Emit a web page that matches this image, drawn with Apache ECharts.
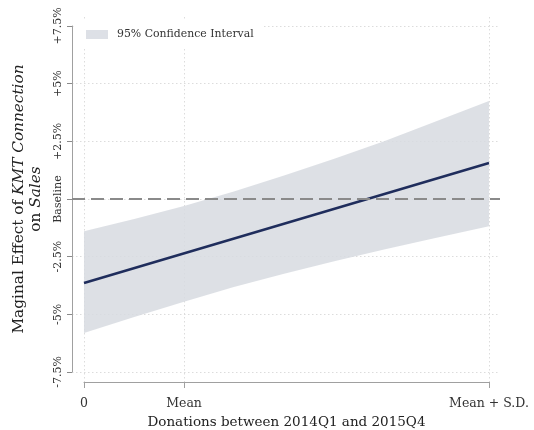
<!DOCTYPE html>
<html>
<head>
<meta charset="utf-8">
<script src="https://cdn.jsdelivr.net/npm/echarts@6/dist/echarts.min.js"></script>
<style>
html,body{margin:0;padding:0;background:#fff;}
#chart{width:534px;height:430px;}
</style>
</head>
<body>
<div id="chart"></div>
<script>
// ---- data (x in units where Mean + S.D. = 1) ----
const xTickValues = [0, 0.247, 1];
const xTickLabels = ['0', 'Mean', 'Mean + S.D.'];
const yTickValues = [-7.5, -5, -2.5, 0, 2.5, 5, 7.5];
const yTickLabels = ['-7.5%', '-5%', '-2.5%', 'Baseline', '+2.5%', '+5%', '+7.5%'];
const lineX = [0, 1];
const lineY = [-3.64, 1.56];
const bandX = [0, 0.124, 0.247, 0.37, 0.494, 0.618, 0.741, 0.865, 1];
const upperY = [-1.40, -0.87, -0.30, 0.32, 1.02, 1.74, 2.50, 3.34, 4.25];
const lowerY = [-5.81, -5.12, -4.45, -3.82, -3.24, -2.70, -2.19, -1.70, -1.18];
const bandName = '95% Confidence Interval';

const FONT = 'DejaVu Serif';
const bandColor = '#d7dae1';
const legendBandColor = '#dde0e6';
const lineColor = '#1f2d5c';

const chart = echarts.init(document.getElementById('chart'), null, {renderer: 'canvas'});

const findLabel = (vals, labels) => v => {
  const i = vals.findIndex(t => Math.abs(t - v) < 1e-6);
  return i >= 0 ? labels[i] : '';
};

const option = {
  backgroundColor: '#fff',
  animation: false,
  textStyle: {fontFamily: FONT},
  legend: {
    left: 76, top: 21,
    padding: [8, 10, 8, 10],
    backgroundColor: '#fff',
    itemWidth: 22, itemHeight: 9,
    textStyle: {fontFamily: FONT, fontSize: 10.9, color: '#333', padding: [0, 0, 0, 4]},
    data: [{name: bandName, icon: 'rect', itemStyle: {color: legendBandColor}}]
  },
  grid: [
    {left: 72, right: 34, top: 26, bottom: 58, outerBoundsMode: 'none', containLabel: false},
    {left: 84, right: 45, top: 17, bottom: 48, outerBoundsMode: 'none', containLabel: false}
  ],
  xAxis: [
    {gridIndex: 0, type: 'value', min: -0.0296, max: 1.0272, show: false},
    {
      gridIndex: 1, type: 'value', min: 0, max: 1, position: 'bottom',
      axisLine: {show: true, onZero: false, lineStyle: {color: '#a0a0a0', width: 1}},
      axisTick: {show: true, inside: false, length: 6, lineStyle: {color: '#a0a0a0'}, customValues: xTickValues},
      axisLabel: {
        show: true, margin: 15, color: '#333', fontFamily: FONT, fontSize: 12.5,
        customValues: xTickValues,
        formatter: findLabel(xTickValues, xTickLabels)
      },
      splitLine: {show: true, lineStyle: {color: '#dcdcdc', type: [1.5, 2.5], width: 1}},
      name: 'Donations between 2014Q1 and 2015Q4',
      nameLocation: 'middle', nameGap: 33,
      nameTextStyle: {fontFamily: FONT, fontSize: 13.5, color: '#222'}
    }
  ],
  yAxis: [
    {
      gridIndex: 0, type: 'value', min: -7.5, max: 7.5, interval: 2.5, position: 'left',
      axisLine: {show: true, onZero: false, lineStyle: {color: '#a0a0a0', width: 1}},
      axisTick: {show: true, inside: false, length: 5, lineStyle: {color: '#8a8a8a', width: 1}},
      axisLabel: {
        rotate: 90, margin: 14, color: '#333', fontFamily: FONT, fontSize: 11,
        align: 'center', verticalAlign: 'middle',
        formatter: findLabel(yTickValues, yTickLabels)
      },
      splitLine: {show: true, lineStyle: {color: '#dcdcdc', type: [1.5, 2.5], width: 1}},
      name: '{n|Maginal Effect of }{i|KMT Connection}\n{n|on }{i|Sales}',
      nameLocation: 'middle', nameRotate: 90, nameGap: 17,
      nameTextStyle: {
        fontFamily: FONT, fontSize: 15.3, color: '#222', lineHeight: 17, align: 'center',
        rich: {
          n: {fontFamily: FONT, fontSize: 15.3, color: '#222', lineHeight: 17},
          i: {fontFamily: FONT, fontSize: 15.3, color: '#222', fontStyle: 'italic', lineHeight: 17}
        }
      }
    },
    {gridIndex: 1, type: 'value', min: 0, max: 1, show: false}
  ],
  series: [
    {
      name: bandName,
      type: 'custom',
      xAxisIndex: 0, yAxisIndex: 0,
      itemStyle: {color: legendBandColor},
      data: [[0, 0]],
      z: 2,
      renderItem: function (params, api) {
        const pts = [];
        for (let k = 0; k < bandX.length; k++) pts.push(api.coord([bandX[k], upperY[k]]));
        for (let k = bandX.length - 1; k >= 0; k--) pts.push(api.coord([bandX[k], lowerY[k]]));
        return {type: 'polygon', shape: {points: pts}, style: {fill: bandColor, opacity: 0.85}};
      },
      markLine: {
        silent: true, symbol: 'none', label: {show: false},
        lineStyle: {color: '#8a8a8a', type: [13, 6], width: 2},
        data: [{yAxis: 0}]
      }
    },
    {
      name: 'Marginal effect',
      type: 'line',
      xAxisIndex: 0, yAxisIndex: 0,
      showSymbol: false,
      z: 4,
      lineStyle: {color: lineColor, width: 2.5},
      data: lineX.map((x, k) => [x, lineY[k]])
    }
  ]
};
chart.setOption(option);
</script>
</body>
</html>
